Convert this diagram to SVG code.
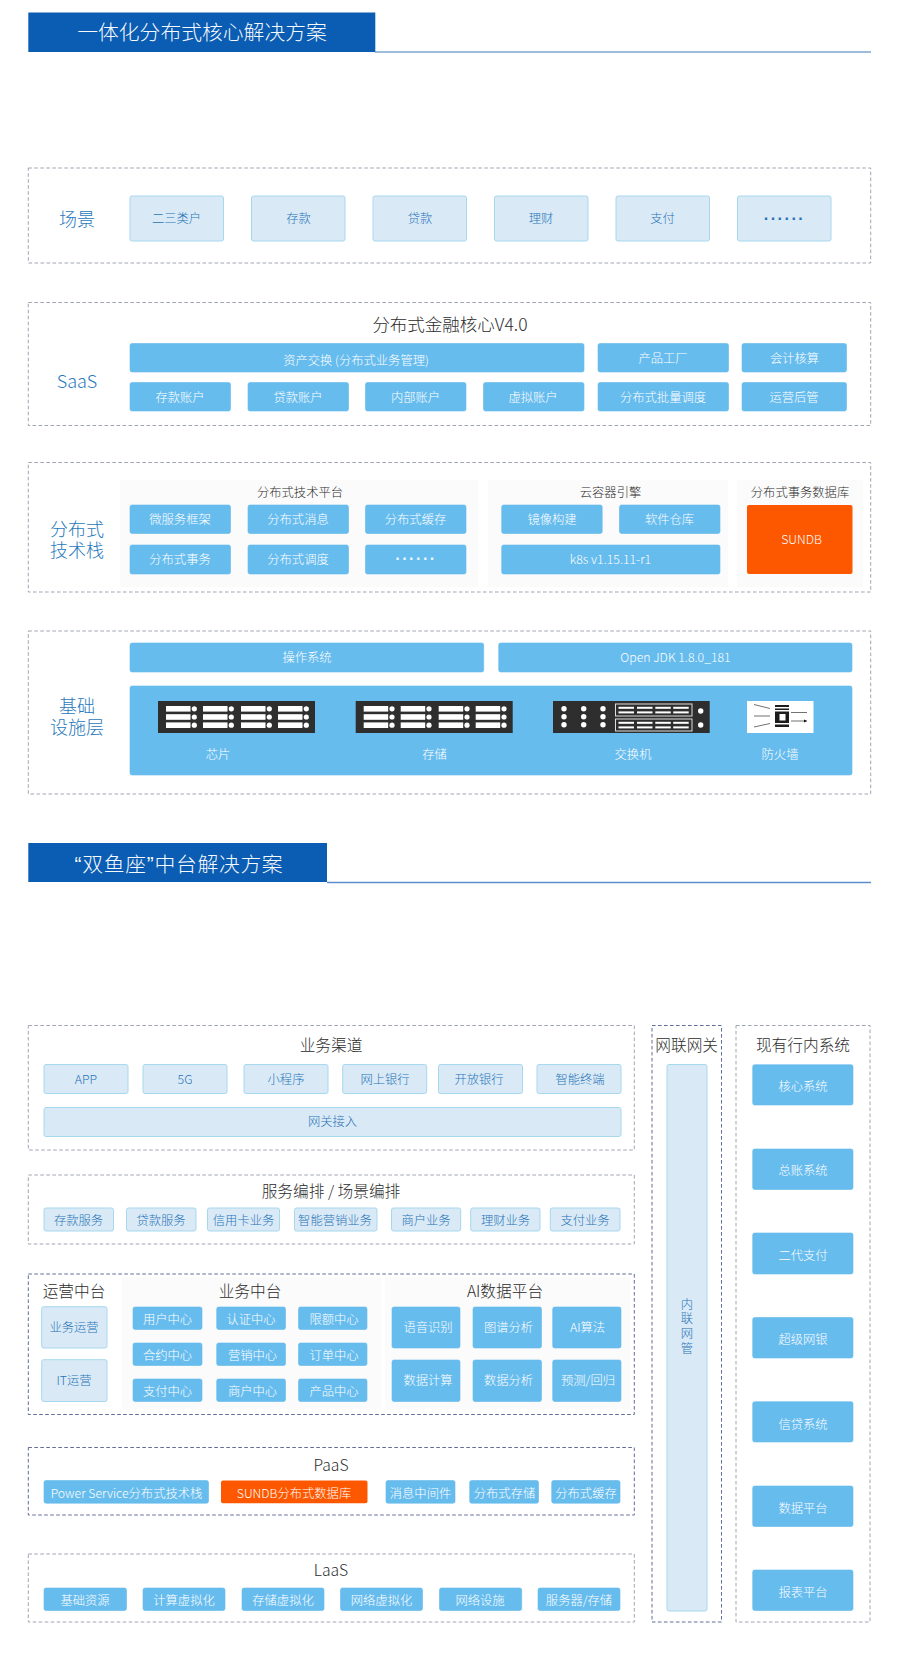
<svg xmlns="http://www.w3.org/2000/svg" xmlns:xlink="http://www.w3.org/1999/xlink" width="900" height="1665" viewBox="0 0 900 1665">
<style>
text{font-family:"Noto Sans CJK SC","Noto Sans",sans-serif;text-anchor:middle;dominant-baseline:central}
.h{fill:#0a5db2}.hl{stroke:#7ea7cf;stroke-width:1.4;fill:none}.ht{fill:#f7fafd;font-size:20.8px;font-weight:300}
.d{fill:none;stroke:#a0a5b2;stroke-width:1;stroke-dasharray:3.6 2.4}
.n{stroke:#626c98}
.p{fill:#fbfbfb}
.b{fill:#67bcee;stroke:#63b8ea;stroke-width:.6}
.l{fill:#d9eaf6;stroke:#a6d8ee;stroke-width:1}
.o{fill:#fd5800}
.w{fill:#fff;font-size:12.3px;font-weight:300}
.t{fill:#2a74b8;font-size:12.3px;font-weight:300}
.k{fill:#2c2c2c;font-size:15.7px;font-weight:300}
.k2{fill:#2c2c2c;font-size:12.3px;font-weight:300}
.s{fill:#2878bc;font-size:18px;font-weight:300}
.q{font-family:"Liberation Sans",sans-serif}
.dots{font-family:"Liberation Sans",sans-serif;font-size:16px;font-weight:700;letter-spacing:1.6px}
.sv{fill:#2f2e2e}.wh{fill:#fff}
.a{stroke:#333;stroke-width:.7;fill:none;marker-end:url(#ah)}
.sb{fill:none;stroke:#ddd;stroke-width:1}
</style>
<defs>
<marker id="ah" markerUnits="userSpaceOnUse" markerWidth="5" markerHeight="5" refX="3.5" refY="1.75" orient="auto"><path d="M0 0L3.5 1.75L0 3.5Z" fill="#111"/></marker>
<g id="unit"><rect width="24.5" height="5.6" class="wh"/><rect y="8.2" width="24.5" height="5.6" class="wh"/><rect y="16.4" width="24.5" height="5.6" class="wh"/><circle cx="28.3" cy="2.8" r="2.6" class="wh"/><circle cx="28.3" cy="11" r="2.6" class="wh"/><circle cx="28.3" cy="19.2" r="2.6" class="wh"/></g>
<g id="server"><rect width="157" height="32" class="sv"/><use xlink:href="#unit" x="8" y="5"/><use xlink:href="#unit" x="45" y="5"/><use xlink:href="#unit" x="83" y="5"/><use xlink:href="#unit" x="120" y="5"/></g>
<g id="bars"><rect width="15.5" height="2" class="wh"/><rect y="4.6" width="15.5" height="2" class="wh"/><rect x="18.5" width="15.5" height="2" class="wh"/><rect x="18.5" y="4.6" width="15.5" height="2" class="wh"/><rect x="36.8" width="15.5" height="2" class="wh"/><rect x="36.8" y="4.6" width="15.5" height="2" class="wh"/><rect x="54.7" width="15.5" height="2" class="wh"/><rect x="54.7" y="4.6" width="15.5" height="2" class="wh"/></g>
</defs>
<rect width="900" height="1665" fill="#fff"/>

<g id="header-1"><path class="hl" d="M375 52H871"/><rect class="h" x="28.3" y="12.5" width="347" height="39.5"/><text class="ht" x="202" y="31">一体化分布式核心解决方案</text></g>

<g id="sec-scene"><rect class="d" x="28.3" y="168" width="842.4" height="95"/><text class="s" x="77" y="218">场景</text>
<g id="s1"><rect class="l" x="130" y="196" width="93.5" height="45" rx="2"/><text class="t" x="176.5" y="218">二三类户</text></g>
<g id="s2"><rect class="l" x="251.5" y="196" width="93.5" height="45" rx="2"/><text class="t" x="298.5" y="218">存款</text></g>
<g id="s3"><rect class="l" x="373" y="196" width="93.5" height="45" rx="2"/><text class="t" x="420" y="218">贷款</text></g>
<g id="s4"><rect class="l" x="494.5" y="196" width="93.5" height="45" rx="2"/><text class="t" x="541" y="218">理财</text></g>
<g id="s5"><rect class="l" x="616" y="196" width="93.5" height="45" rx="2"/><text class="t" x="662.5" y="218">支付</text></g>
<g id="s6"><rect class="l" x="737.5" y="196" width="93.5" height="45" rx="2"/><text class="dots" x="784.5" y="218" fill="#2a6fb5">······</text></g>
</g>

<g id="sec-saas"><rect class="d" x="28.3" y="302.5" width="842.4" height="123"/><text class="s" x="77" y="380">SaaS</text><text class="k" x="450" y="323" style="font-size:17.5px">分布式金融核心V4.0</text>
<g id="sa1"><rect class="b" x="130" y="343.5" width="454" height="28.5" rx="2"/><text class="w" x="356" y="359.5">资产交换 (分布式业务管理)</text></g>
<g id="sa2"><rect class="b" x="598" y="343.5" width="130.5" height="28.5" rx="2"/><text class="w" x="663" y="357.5">产品工厂</text></g>
<g id="sa3"><rect class="b" x="742" y="343.5" width="104.5" height="28.5" rx="2"/><text class="w" x="794.5" y="357.5">会计核算</text></g>
<g id="sa4"><rect class="b" x="130" y="382.5" width="100.5" height="28.5" rx="2"/><text class="w" x="180" y="397">存款账户</text></g>
<g id="sa5"><rect class="b" x="248" y="382.5" width="100.5" height="28.5" rx="2"/><text class="w" x="298" y="397">贷款账户</text></g>
<g id="sa6"><rect class="b" x="365.5" y="382.5" width="100.5" height="28.5" rx="2"/><text class="w" x="415.5" y="397">内部账户</text></g>
<g id="sa7"><rect class="b" x="483.5" y="382.5" width="100.5" height="28.5" rx="2"/><text class="w" x="533" y="397">虚拟账户</text></g>
<g id="sa8"><rect class="b" x="598" y="382.5" width="130.5" height="28.5" rx="2"/><text class="w" x="663" y="397">分布式批量调度</text></g>
<g id="sa9"><rect class="b" x="742" y="382.5" width="104.5" height="28.5" rx="2"/><text class="w" x="794" y="397">运营后管</text></g>
</g>

<g id="sec-tech"><rect class="d" x="28.3" y="462.5" width="842.4" height="129.5"/>
<rect class="p" x="120" y="480" width="358" height="107"/><rect class="p" x="488" y="480" width="240" height="107"/><rect class="p" x="737" y="480" width="126" height="107"/>
<text class="s" y="528"><tspan x="77">分布式</tspan></text><text class="s" y="549"><tspan x="77">技术栈</tspan></text>
<text class="k2" x="300" y="492">分布式技术平台</text><text class="k2" x="610.5" y="492">云容器引擎</text><text class="k2" x="800" y="492">分布式事务数据库</text>
<g id="t1"><rect class="b" x="130" y="505" width="100.5" height="28.5" rx="2"/><text class="w" x="180" y="518.5">微服务框架</text></g>
<g id="t2"><rect class="b" x="248" y="505" width="100.5" height="28.5" rx="2"/><text class="w" x="298" y="518.5">分布式消息</text></g>
<g id="t3"><rect class="b" x="365.5" y="505" width="100.5" height="28.5" rx="2"/><text class="w" x="415.5" y="518.5">分布式缓存</text></g>
<g id="t4"><rect class="b" x="130" y="545" width="100.5" height="29" rx="2"/><text class="w" x="180" y="558.5">分布式事务</text></g>
<g id="t5"><rect class="b" x="248" y="545" width="100.5" height="29" rx="2"/><text class="w" x="298" y="558.5">分布式调度</text></g>
<g id="t6"><rect class="b" x="365.5" y="545" width="100.5" height="29" rx="2"/><text class="dots" x="416" y="558.5" fill="#e9f6fd">······</text></g>
<g id="t7"><rect class="b" x="501.7" y="505" width="100.5" height="28.5" rx="2"/><text class="w" x="552" y="518.5">镜像构建</text></g>
<g id="t8"><rect class="b" x="619.5" y="505" width="100.5" height="28.5" rx="2"/><text class="w" x="669.5" y="518.5">软件仓库</text></g>
<g id="t9"><rect class="b" x="501.7" y="545" width="218.3" height="29" rx="2"/><text class="w" x="610.5" y="558.5">k8s v1.15.11-r1</text></g>
<g id="t10"><rect class="o" x="747" y="505" width="105.5" height="69" rx="2"/><text class="w" x="801.5" y="538.5">SUNDB</text></g>
</g>

<g id="sec-infra"><rect class="d" x="28.3" y="631" width="842.4" height="163"/>
<text class="s" y="705"><tspan x="77">基础</tspan></text><text class="s" y="726"><tspan x="77">设施层</tspan></text>
<g id="i1"><rect class="b" x="130" y="643" width="353.7" height="29" rx="2"/><text class="w" x="307" y="656.5">操作系统</text></g>
<g id="i2"><rect class="b" x="498.7" y="643" width="353.3" height="29" rx="2"/><text class="w" x="675.5" y="656.5">Open JDK 1.8.0_181</text></g>
<g id="i3"><rect class="b" x="130" y="686" width="722" height="89" rx="2"/>
<use xlink:href="#server" x="158" y="701"/><use xlink:href="#server" x="355.7" y="701"/>
<rect class="sv" x="553" y="701" width="156.7" height="32"/>
<g class="wh"><circle cx="564" cy="708.7" r="2.7"/><circle cx="564" cy="716.7" r="2.7"/><circle cx="564" cy="724.7" r="2.7"/><circle cx="583.7" cy="708.7" r="2.7"/><circle cx="583.7" cy="716.7" r="2.7"/><circle cx="583.7" cy="724.7" r="2.7"/><circle cx="603" cy="708.7" r="2.7"/><circle cx="603" cy="716.7" r="2.7"/><circle cx="603" cy="724.7" r="2.7"/><circle cx="700.7" cy="711" r="2.7"/><circle cx="700.7" cy="725" r="2.7"/></g>
<rect class="sb" x="615.5" y="704" width="76.5" height="12"/><rect class="sb" x="615.5" y="719" width="76.5" height="12"/>
<use xlink:href="#bars" x="618.5" y="706.8"/><use xlink:href="#bars" x="618.5" y="721.8"/>
<rect class="wh" x="747" y="701" width="66.5" height="32"/>
<path class="a" d="M754 704.5L770 708.5M754 716H770M754 727L770 723.5M791 712.5H807M791 721H807"/>
<path d="M775 705H789V707H775ZM775 708.5H789V710H775ZM775 711.5H789V723H775ZM779.5 714V720.5H785.5V714ZM775 724.5H789V727H775Z" fill="#1d1d1d" fill-rule="evenodd"/>
<text class="w" x="218" y="753.5">芯片</text><text class="w" x="434.5" y="753.5">存储</text><text class="w" x="633" y="753.5">交换机</text><text class="w" x="780" y="753.5">防火墙</text></g>
</g>

<g id="header-2"><path class="hl" style="stroke:#5d8fd0" d="M327 882.5H871"/><rect class="h" x="28.3" y="843" width="298.7" height="39"/><text class="ht" x="179" y="863" letter-spacing=".7"><tspan class="q">“</tspan>双鱼座<tspan class="q">”</tspan>中台解决方案</text></g>

<g id="sec-channel"><rect class="d" x="28.3" y="1025.5" width="606" height="124.5"/><text class="k" x="331" y="1044">业务渠道</text>
<g id="c1"><rect class="l" x="44" y="1064.5" width="84" height="29" rx="2"/><text class="t" x="86" y="1078.5">APP</text></g>
<g id="c2"><rect class="l" x="143" y="1064.5" width="84" height="29" rx="2"/><text class="t" x="185" y="1078.5">5G</text></g>
<g id="c3"><rect class="l" x="244" y="1064.5" width="84" height="29" rx="2"/><text class="t" x="286" y="1078.5">小程序</text></g>
<g id="c4"><rect class="l" x="342.7" y="1064.5" width="84" height="29" rx="2"/><text class="t" x="385" y="1078.5">网上银行</text></g>
<g id="c5"><rect class="l" x="438.5" y="1064.5" width="84" height="29" rx="2"/><text class="t" x="479" y="1078.5">开放银行</text></g>
<g id="c6"><rect class="l" x="537" y="1064.5" width="84" height="29" rx="2"/><text class="t" x="580" y="1078.5">智能终端</text></g>
<g id="c7"><rect class="l" x="44" y="1107.5" width="577" height="29" rx="2"/><text class="t" x="332.5" y="1120.5">网关接入</text></g>
</g>

<g id="sec-service"><rect class="d" x="28.3" y="1175" width="606" height="69"/><text class="k" x="331" y="1190.5">服务编排 / 场景编排</text>
<g id="v1"><rect class="l" x="44" y="1208" width="69.5" height="23" rx="2"/><text class="t" x="78.5" y="1220">存款服务</text></g>
<g id="v2"><rect class="l" x="126.5" y="1208" width="69.5" height="23" rx="2"/><text class="t" x="161" y="1220">贷款服务</text></g>
<g id="v3"><rect class="l" x="207.5" y="1208" width="72" height="23" rx="2"/><text class="t" x="243.5" y="1220">信用卡业务</text></g>
<g id="v4"><rect class="l" x="294.5" y="1208" width="82.5" height="23" rx="2"/><text class="t" x="335" y="1220">智能营销业务</text></g>
<g id="v5"><rect class="l" x="391.5" y="1208" width="69.2" height="23" rx="2"/><text class="t" x="426" y="1220">商户业务</text></g>
<g id="v6"><rect class="l" x="470.7" y="1208" width="69.3" height="23" rx="2"/><text class="t" x="505.5" y="1220">理财业务</text></g>
<g id="v7"><rect class="l" x="550.3" y="1208" width="69.7" height="23" rx="2"/><text class="t" x="585" y="1220">支付业务</text></g>
</g>

<g id="sec-mid"><rect class="d n" x="28.3" y="1274" width="606" height="140.5"/>
<rect class="p" x="122" y="1277" width="259" height="132"/><rect class="p" x="385" y="1277" width="245" height="132"/>
<text class="k" x="74" y="1290">运营中台</text><text class="k" x="250" y="1290">业务中台</text><text class="k" x="505" y="1290">AI数据平台</text>
<g id="m1"><rect class="l" x="41.7" y="1306.7" width="65.3" height="41.3" rx="2"/><text class="t" x="74" y="1327">业务运营</text></g>
<g id="m2"><rect class="l" x="41.7" y="1359.7" width="65.3" height="41.8" rx="2"/><text class="t" x="74" y="1379.5">IT运营</text></g>
<g id="m3"><rect class="b" x="133" y="1307" width="69" height="22.5" rx="2"/><text class="w" x="167.5" y="1318.5">用户中心</text></g>
<g id="m4"><rect class="b" x="216.7" y="1307" width="68.8" height="22.5" rx="2"/><text class="w" x="251" y="1318.5">认证中心</text></g>
<g id="m5"><rect class="b" x="298.5" y="1307" width="68.5" height="22.5" rx="2"/><text class="w" x="334" y="1318.5">限额中心</text></g>
<g id="m6"><rect class="b" x="133" y="1343" width="69" height="22.5" rx="2"/><text class="w" x="167.5" y="1354.5">合约中心</text></g>
<g id="m7"><rect class="b" x="216.7" y="1343" width="68.8" height="22.5" rx="2"/><text class="w" x="252.5" y="1354.5">营销中心</text></g>
<g id="m8"><rect class="b" x="298.5" y="1343" width="68.5" height="22.5" rx="2"/><text class="w" x="334" y="1354.5">订单中心</text></g>
<g id="m9"><rect class="b" x="133" y="1379" width="69" height="22.5" rx="2"/><text class="w" x="167.5" y="1390.5">支付中心</text></g>
<g id="m10"><rect class="b" x="216.7" y="1379" width="68.8" height="22.5" rx="2"/><text class="w" x="252.5" y="1390.5">商户中心</text></g>
<g id="m11"><rect class="b" x="298.5" y="1379" width="68.5" height="22.5" rx="2"/><text class="w" x="334" y="1390.5">产品中心</text></g>
<g id="m12"><rect class="b" x="392" y="1307" width="68" height="41" rx="2"/><text class="w" x="428" y="1327">语音识别</text></g>
<g id="m13"><rect class="b" x="473" y="1307" width="68.5" height="41" rx="2"/><text class="w" x="508.5" y="1327">图谱分析</text></g>
<g id="m14"><rect class="b" x="552.7" y="1307" width="68.3" height="41" rx="2"/><text class="w" x="587.5" y="1327">AI算法</text></g>
<g id="m15"><rect class="b" x="392" y="1360" width="68" height="41.5" rx="2"/><text class="w" x="428" y="1380">数据计算</text></g>
<g id="m16"><rect class="b" x="473" y="1360" width="68.5" height="41.5" rx="2"/><text class="w" x="508.5" y="1380">数据分析</text></g>
<g id="m17"><rect class="b" x="552.7" y="1360" width="68.3" height="41.5" rx="2"/><text class="w" x="588" y="1380">预测/回归</text></g>
</g>

<g id="sec-paas"><rect class="d n" x="28.3" y="1447.5" width="606" height="67.5"/><text class="k" x="331" y="1464.5">PaaS</text>
<g id="p1"><rect class="b" x="44" y="1480.5" width="164.5" height="22.7" rx="2"/><text class="w" x="126.5" y="1492.5">Power Service分布式技术栈</text></g>
<g id="p2"><rect class="o" x="221" y="1480.5" width="146.5" height="22.7" rx="2"/><text class="w" x="294" y="1492.5">SUNDB分布式数据库</text></g>
<g id="p3"><rect class="b" x="386" y="1480.5" width="69" height="22.7" rx="2"/><text class="w" x="420.5" y="1492.5">消息中间件</text></g>
<g id="p4"><rect class="b" x="469.7" y="1480.5" width="68.8" height="22.7" rx="2"/><text class="w" x="504.5" y="1492.5">分布式存储</text></g>
<g id="p5"><rect class="b" x="551.7" y="1480.5" width="68.3" height="22.7" rx="2"/><text class="w" x="586" y="1492.5">分布式缓存</text></g>
</g>

<g id="sec-laas"><rect class="d" x="28.3" y="1554" width="606" height="68"/><text class="k" x="331" y="1569">LaaS</text>
<g id="q1"><rect class="b" x="44" y="1588" width="82.5" height="22.5" rx="2"/><text class="w" x="85" y="1600">基础资源</text></g>
<g id="q2"><rect class="b" x="143" y="1588" width="82" height="22.5" rx="2"/><text class="w" x="184" y="1600">计算虚拟化</text></g>
<g id="q3"><rect class="b" x="242" y="1588" width="82" height="22.5" rx="2"/><text class="w" x="283" y="1600">存储虚拟化</text></g>
<g id="q4"><rect class="b" x="340.5" y="1588" width="82" height="22.5" rx="2"/><text class="w" x="381.5" y="1600">网络虚拟化</text></g>
<g id="q5"><rect class="b" x="439.5" y="1588" width="82.2" height="22.5" rx="2"/><text class="w" x="480" y="1600">网络设施</text></g>
<g id="q6"><rect class="b" x="538" y="1588" width="82" height="22.5" rx="2"/><text class="w" x="579" y="1600">服务器/存储</text></g>
</g>

<g id="sec-gateway"><rect class="d n" x="652" y="1025.5" width="69.5" height="596.5"/><text class="k" x="686.7" y="1044">网联网关</text>
<g id="g1"><rect class="l" x="667" y="1064.5" width="40" height="546.5" rx="2"/><text class="t" y="1303.7"><tspan x="687">内</tspan><tspan x="687" dy="14.6">联</tspan><tspan x="687" dy="14.7">网</tspan><tspan x="687" dy="14.7">管</tspan></text></g>
</g>

<g id="sec-legacy"><rect class="d" x="736" y="1025.5" width="134" height="596.5"/><text class="k" x="803" y="1044">现有行内系统</text>
<g id="x1"><rect class="b" x="752.7" y="1064.7" width="100.3" height="40.3" rx="2"/><text class="w" x="803" y="1086">核心系统</text></g>
<g id="x2"><rect class="b" x="752.7" y="1149" width="100.3" height="40.5" rx="2"/><text class="w" x="803" y="1170">总账系统</text></g>
<g id="x3"><rect class="b" x="752.7" y="1233" width="100.3" height="41" rx="2"/><text class="w" x="803" y="1254.5">二代支付</text></g>
<g id="x4"><rect class="b" x="752.7" y="1317.5" width="100.3" height="40.5" rx="2"/><text class="w" x="803" y="1339">超级网银</text></g>
<g id="x5"><rect class="b" x="752.7" y="1401.7" width="100.3" height="40.3" rx="2"/><text class="w" x="803" y="1423.5">信贷系统</text></g>
<g id="x6"><rect class="b" x="752.7" y="1486" width="100.3" height="40.5" rx="2"/><text class="w" x="803" y="1507.5">数据平台</text></g>
<g id="x7"><rect class="b" x="752.7" y="1570" width="100.3" height="40.5" rx="2"/><text class="w" x="803" y="1592">报表平台</text></g>
</g>
</svg>
